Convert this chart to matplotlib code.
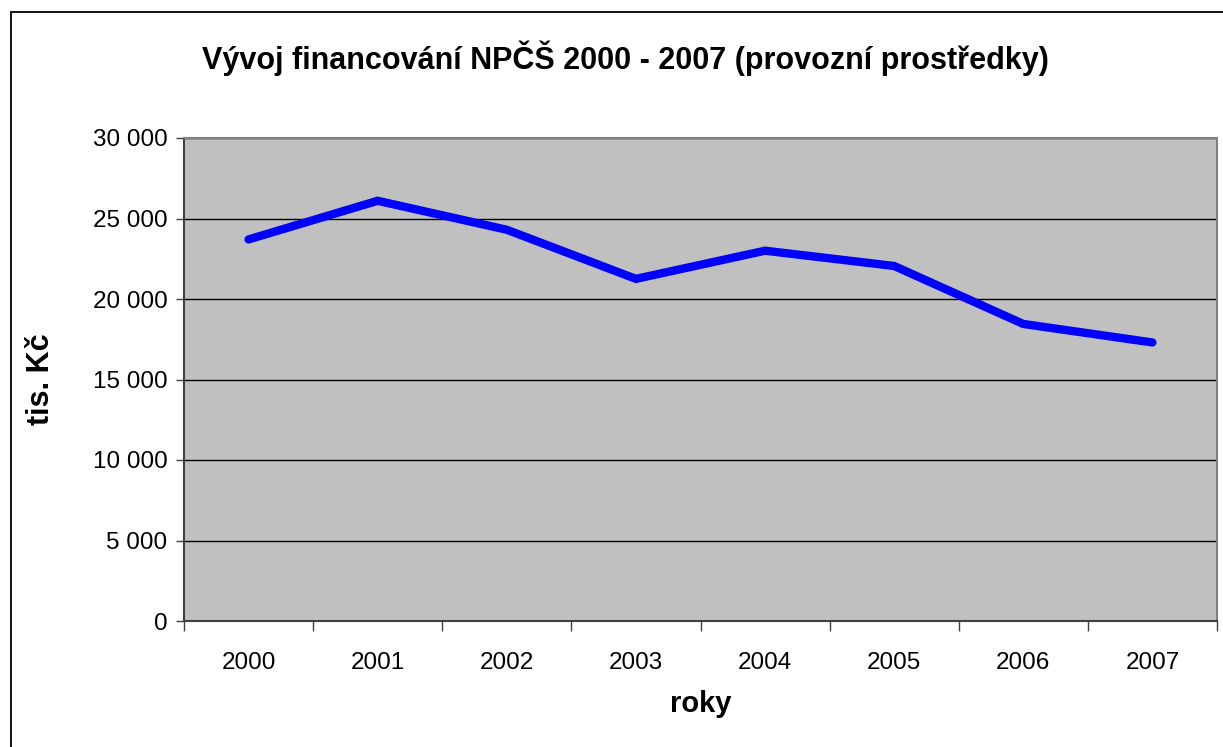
import matplotlib
matplotlib.use("Agg")
import matplotlib.pyplot as plt
from matplotlib.patches import Rectangle
from matplotlib.ticker import FuncFormatter, MultipleLocator, FixedLocator

plt.rcParams['font.family'] = ['Liberation Sans', 'DejaVu Sans']

# data (tis. Kč)
roky = ['2000', '2001', '2002', '2003', '2004', '2005', '2006', '2007']
hodnoty = [23700, 26100, 24300, 21250, 23000, 22050, 18450, 17300]

fig = plt.figure(figsize=(12.23, 7.47), dpi=100)
fig.patch.set_facecolor('white')

# outer chart frame
fig.patches.append(Rectangle((11 / 1223, -0.05), 1.2, 0.984 + 0.05,
                             transform=fig.transFigure, fill=False,
                             edgecolor='black', linewidth=1.3))

ax = fig.add_axes([184 / 1223, 126 / 747, 1033 / 1223, 483 / 747])
ax.set_facecolor('#C0C0C0')

x = range(len(roky))
ax.plot(x, hodnoty, color='#0000FF', linewidth=6, solid_capstyle='round',
        solid_joinstyle='miter', zorder=3)

ax.set_xlim(-0.5, len(roky) - 0.5)
ax.set_ylim(0, 30000)
ax.yaxis.set_major_locator(MultipleLocator(5000))
ax.yaxis.set_major_formatter(FuncFormatter(lambda v, p: f"{int(v):,}".replace(',', ' ')))
ax.grid(axis='y', color='black', linewidth=1)
ax.set_axisbelow(True)

ax.set_xticks(list(x))
ax.set_xticklabels(roky)
ax.xaxis.set_minor_locator(FixedLocator([i - 0.5 for i in range(len(roky) + 1)]))
ax.tick_params(axis='x', which='major', length=0, pad=22, labelsize=17.5)
ax.tick_params(axis='x', which='minor', length=7, width=1, direction='out', color='#404040')
ax.tick_params(axis='y', length=6, width=1, direction='out', labelsize=17.5, pad=6, color='#404040')

for s in ['top', 'right']:
    ax.spines[s].set_color('#808080')
    ax.spines[s].set_linewidth(1.5)
for s in ['left', 'bottom']:
    ax.spines[s].set_color('#404040')
    ax.spines[s].set_linewidth(1.5)

ax.set_ylabel('tis. Kč', fontsize=22, fontweight='bold', labelpad=26)
ax.set_xlabel('roky', fontsize=21, fontweight='bold', labelpad=12)
fig.text(625 / 1223, 1 - 58 / 747, 'Vývoj financování NPČŠ 2000 - 2007 (provozní prostředky)',
         ha='center', va='center', fontsize=22, fontweight='bold')

fig.savefig('out.png', dpi=100)
